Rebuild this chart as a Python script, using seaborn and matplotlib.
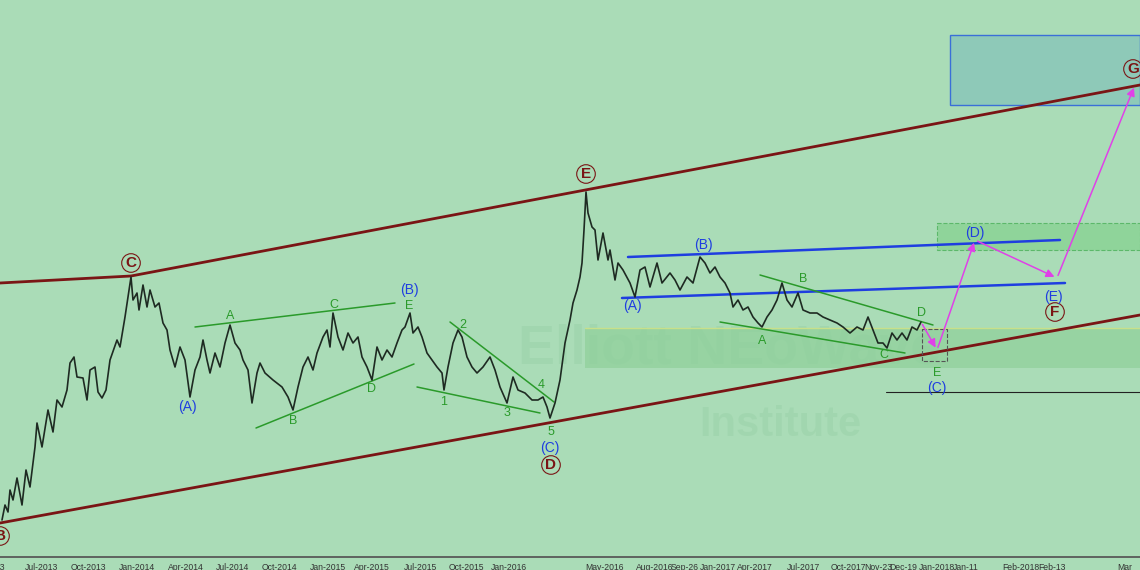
import matplotlib
matplotlib.use("Agg")
import matplotlib.pyplot as plt
from matplotlib.patches import Rectangle
import seaborn as sns
import pandas as pd

sns.set_theme(style="white")
plt.rcParams['font.family'] = ['Liberation Sans', 'DejaVu Sans']

# x positions of the (irregular) date axis, and labels
tick_pos = [0, 41, 88, 137, 186, 233, 279, 328, 372, 420, 466, 509, 605, 655, 685, 718, 755, 803, 848, 878, 903, 937, 966, 1021, 1052, 1125]
tick_lab = ["13", "Jul-2013", "Oct-2013", "Jan-2014", "Apr-2014", "Jul-2014", "Oct-2014", "Jan-2015", "Apr-2015",
            "Jul-2015", "Oct-2015", "Jan-2016", "May-2016", "Aug-2016", "Sep-26", "Jan-2017", "Apr-2017", "Jul-2017",
            "Oct-2017", "Nov-23", "Dec-19", "Jan-2018", "Jan-11", "Feb-2018", "Feb-13", "Mar"]

# price trace (x = bar position, y = chart level; y axis inverted, unlabeled)
price_x = [2, 5, 8, 10, 13, 17, 22, 26, 30, 35, 37, 42, 48, 53, 57, 62, 67, 70, 74, 77, 83, 87, 90, 95, 98, 102, 106, 110,
           117, 120, 125, 128, 131, 133, 137, 139, 143, 147, 150, 155, 159, 163, 167, 170, 175, 180, 185, 190, 195, 200,
           203, 207, 210, 215, 220, 225, 230, 235, 240, 243, 248, 252, 257, 260, 265, 273, 282, 288, 293, 298, 303, 308,
           313, 317, 323, 327, 330, 333, 338, 343, 348, 353, 358, 362, 367, 372, 377, 382, 387, 392, 397, 402, 405, 410,
           413, 418, 422, 427, 432, 437, 442, 444, 448, 453, 458, 462, 467, 472, 477, 483, 490, 495, 500, 507, 513, 518,
           525, 532, 538, 543, 547, 550, 555, 560, 565, 570, 573, 577, 580, 582, 584, 586, 588, 592, 595, 598, 603, 608,
           610, 615, 618, 623, 630, 635, 640, 645, 650, 657, 662, 670, 675, 680, 687, 693, 700, 705, 710, 715, 720, 725,
           730, 733, 738, 743, 748, 753, 758, 762, 767, 772, 777, 782, 787, 792, 798, 803, 810, 817, 823, 830, 837, 843,
           850, 857, 863, 868, 873, 878, 883, 887, 892, 897, 902, 907, 912, 917, 921]
price_y = [520, 505, 512, 490, 500, 478, 505, 470, 487, 447, 423, 447, 410, 432, 400, 407, 390, 363, 357, 377, 378, 400,
           370, 367, 392, 398, 390, 360, 340, 347, 317, 297, 277, 300, 293, 310, 285, 307, 290, 307, 303, 323, 330, 350,
           367, 347, 360, 397, 370, 357, 340, 360, 373, 353, 367, 343, 325, 343, 350, 360, 370, 403, 373, 363, 373, 380,
           387, 397, 410, 387, 367, 357, 370, 353, 337, 330, 347, 313, 337, 350, 333, 343, 337, 357, 367, 380, 347, 360,
           350, 357, 343, 330, 327, 313, 333, 327, 337, 353, 360, 367, 373, 390, 367, 343, 330, 337, 357, 367, 373, 367,
           357, 370, 387, 403, 377, 390, 393, 400, 400, 397, 407, 418, 403, 380, 343, 320, 303, 290, 277, 263, 230, 192,
           213, 227, 230, 260, 233, 260, 250, 280, 263, 270, 283, 297, 270, 267, 287, 263, 283, 273, 280, 290, 277, 283,
           257, 263, 273, 267, 277, 283, 293, 307, 300, 310, 307, 317, 323, 327, 317, 310, 300, 283, 300, 307, 293, 310,
           313, 313, 317, 320, 323, 327, 333, 327, 330, 317, 330, 343, 343, 348, 333, 340, 333, 340, 327, 330, 322]

df = pd.DataFrame({"x": price_x, "y": price_y})

fig = plt.figure(figsize=(11.4, 5.7), dpi=100)
fig.patch.set_facecolor("#aadcb7")
ax = fig.add_axes([0, 13 / 570, 1, 557 / 570])
ax.set_facecolor("#aadcb7")
ax.set_xlim(0, 1140)
ax.set_ylim(557, 0)
for s in ["top", "left", "right"]:
    ax.spines[s].set_visible(False)
ax.spines["bottom"].set_color("#555555")
ax.set_yticks([])
ax.set_xticks(tick_pos)
ax.set_xticklabels(tick_lab, fontsize=6.2, color="#333333")
ax.tick_params(axis="x", length=3, pad=1, color="#555555")

# watermark
ax.text(730, 350, "Elliott NEoWave", fontsize=40, fontweight="bold", color="#98d0a6", alpha=0.45, ha="center", va="center", zorder=0)
ax.text(780, 425, "Institute", fontsize=30, fontweight="bold", color="#98d0a6", alpha=0.45, ha="center", va="center", zorder=0)

# zones
ax.add_patch(Rectangle((585, 328), 555, 40, facecolor="#8fd09a", edgecolor="none", alpha=0.7, zorder=1))
ax.plot([585, 1140], [328, 328], color="#c8e08a", lw=1, zorder=1)
ax.add_patch(Rectangle((937, 223), 203, 27, facecolor="#8fd49a", edgecolor="#5cb86a", ls="--", lw=0.8, zorder=1))
ax.add_patch(Rectangle((950, 35), 190, 70, facecolor="#8ec9b8", edgecolor="#3a6fd8", lw=1, zorder=1))
ax.add_patch(Rectangle((922, 329), 25, 32, facecolor="none", edgecolor="#555555", ls="--", lw=0.8, zorder=3))
ax.plot([886, 1140], [392, 392], color="#222222", lw=0.8)

# channels
brown = "#7a1515"
ax.plot([0, 131, 1140], [283, 276, 85], color=brown, lw=2)
ax.plot([0, 1140], [523, 315], color=brown, lw=2)
blue = "#1f3ee0"
ax.plot([628, 1060], [257, 240], color=blue, lw=1.8)
ax.plot([622, 1065], [298, 283], color=blue, lw=1.8)
green = "#2a9a2a"
for (x0, y0, x1, y1) in [(195, 327, 395, 303), (256, 428, 414, 364), (417, 387, 540, 413), (450, 322, 554, 402),
                         (760, 275, 933, 325), (720, 322, 905, 353)]:
    ax.plot([x0, x1], [y0, y1], color=green, lw=1.1)

sns.lineplot(data=df, x="x", y="y", ax=ax, color="#1e2a22", lw=1.2, sort=False, estimator=None, zorder=4)
ax.set_xlabel("")
ax.set_ylabel("")

# projection arrows
mag = "#e040e8"
for (x0, y0, x1, y1) in [(921, 322, 937, 350), (937, 350, 975, 240), (975, 240, 1057, 278), (1057, 278, 1135, 85)]:
    ax.annotate("", xy=(x1, y1), xytext=(x0, y0), arrowprops=dict(arrowstyle="-|>", color=mag, lw=1.1), zorder=5)

# labels
for (x, y, t) in [(0, 536, "B"), (131, 263, "C"), (586, 174, "E"), (551, 465, "D"), (1055, 312, "F"), (1133, 69, "G")]:
    ax.text(x, y, t, color=brown, fontsize=11, fontweight="bold", ha="center", va="center", zorder=6,
            bbox=dict(boxstyle="circle,pad=0.15", fc="none", ec=brown, lw=0.8))
for (x, y, t) in [(187, 407, "(A)"), (409, 290, "(B)"), (550, 448, "(C)"), (632, 306, "(A)"), (703, 245, "(B)"),
                  (975, 233, "(D)"), (1053, 297, "(E)"), (937, 388, "(C)")]:
    ax.text(x, y, t, color=blue, fontsize=10, ha="center", va="center", zorder=6)
for (x, y, t) in [(230, 316, "A"), (334, 305, "C"), (409, 306, "E"), (293, 421, "B"), (372, 389, "D"), (463, 325, "2"),
                  (444, 402, "1"), (507, 413, "3"), (541, 385, "4"), (551, 432, "5"), (803, 279, "B"), (762, 341, "A"),
                  (884, 355, "C"), (921, 313, "D"), (937, 373, "E")]:
    ax.text(x, y, t, color=green, fontsize=9, ha="center", va="center", zorder=6)

fig.savefig("out.png", dpi=100, facecolor=fig.get_facecolor())
